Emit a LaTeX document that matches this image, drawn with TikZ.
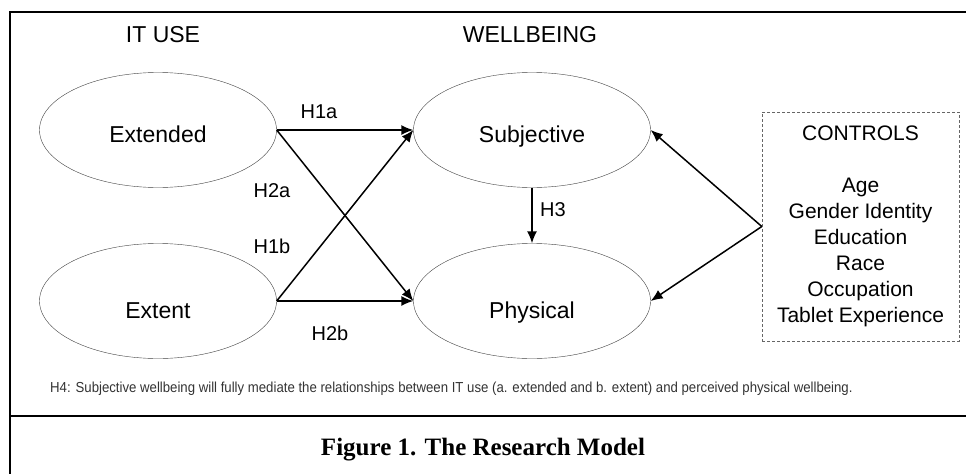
\documentclass[tikz,border=0pt]{standalone}
\usepackage{graphicx}
\usepackage{fontspec}
\setmainfont{Liberation Sans}
\newfontfamily\captionfont{Liberation Serif}
\usetikzlibrary{shapes,arrows.meta}

\begin{document}
\begin{tikzpicture}[x=1pt,y=-1pt,
    construct/.style ={ellipse, draw=black!75, thin, fill=white,
      minimum width=237pt, minimum height=115pt, inner sep=0pt,
      text height=25pt, text depth=0pt,
      font=\fontsize{23}{27}\selectfont},
    construct_low/.style ={construct, text height=35pt},
    block_head/.style ={rectangle, draw=none, inner sep=0pt,
      font=\fontsize{23}{27}\selectfont},
    block_hyp/.style ={rectangle, draw=none, inner sep=0pt,
      font=\fontsize{20}{24}\selectfont},
    block_controls/.style ={rectangle, draw=black!60, densely dashed, thin,
      minimum width=197pt, minimum height=229pt, align=center,
      font=\fontsize{21}{26}\selectfont},
    line/.style ={draw, line width=1.5pt, -{Latex[length=12pt,width=10pt]}, shorten >=0pt}]
    \useasboundingbox (0,0) rectangle (966,474);
    % frame of the figure
    \draw[line width=2.5pt] (966,12) -- (10,12) -- (10,474);
    \draw[line width=2.5pt] (10,416) -- (966,416);
    % headings
    \node [block_head] (ituse) at (163,35) {IT USE};
    \node [block_head] (wellbeing) at (530,35) {WELLBEING};
    % constructs
    \node [construct] (extended) at (158,130) {Extended};
    \node [construct_low] (extent) at (158,301) {Extent};
    \node [construct] (subjective) at (532,130) {Subjective};
    \node [construct_low] (physical) at (532,301) {Physical};
    \node [block_controls] (controls) at (860.5,226.5)
      {CONTROLS\\[26pt]Age\\Gender Identity\\Education\\Race\\Occupation\\Tablet Experience};
    % connecting nodes with paths
    \begin{scope}[every path/.style=line]
      \path (extended.east) -- (subjective.west);
      \path (extended.east) -- (physical.west);
      \path (extent.east) -- (subjective.west);
      \path (extent.east) -- (physical.west);
      \path (subjective.south) -- (physical.north);
      \path (controls.west) -- (subjective.east);
      \path (controls.west) -- (physical.east);
    \end{scope}
    % hypothesis labels
    \node [block_hyp] (h1a) at (319,112) {H1a};
    \node [block_hyp] (h2a) at (272,191) {H2a};
    \node [block_hyp] (h1b) at (272,246) {H1b};
    \node [block_hyp] (h2b) at (330,333) {H2b};
    \node [block_hyp] (h3) at (553,210) {H3};
    \node [anchor=west, inner sep=0pt, text=black!80,
      font=\fontsize{14.5}{17}\selectfont] (h4) at (50,389)
      {\scalebox{0.91}[1]{H4: Subjective wellbeing will fully mediate the relationships between IT use (a. extended and b. extent) and perceived physical wellbeing.}};
    \node [inner sep=0pt, font=\captionfont\bfseries\fontsize{25}{30}\selectfont] (caption) at (483,450)
      {Figure 1. The Research Model};
\end{tikzpicture}
\end{document}
